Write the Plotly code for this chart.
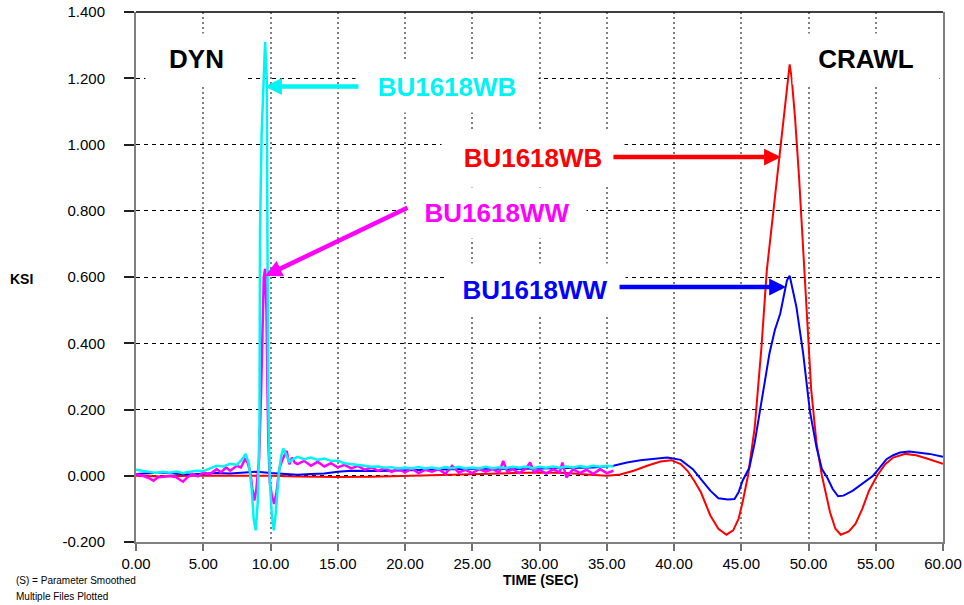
import plotly.graph_objects as go

# ---- Strain traces (KSI vs seconds) ----
# Crawl runs
crawl_wb_t = [0, 2, 4, 6, 8, 10, 12, 15, 17.5, 20, 22, 25, 28, 30, 32, 33.5, 35, 36, 37, 38, 39,
              39.8, 40.5, 41.0, 41.5, 42.0, 42.7, 43.3, 43.9, 44.4, 44.8, 45.1, 45.5, 46.0, 46.5,
              46.9, 47.4, 47.9, 48.3, 48.6, 48.75, 49.0, 49.3, 49.6, 49.9, 50.2, 50.6, 51.0, 51.6,
              52.0, 52.4, 53.0, 53.5, 54.0, 54.5, 55.1, 55.7, 56.3, 57.2, 58.0, 58.8, 59.5, 60.0]
crawl_wb_v = [0.0, -0.002, 0.0, 0.0, 0.002, 0.0, -0.002, -0.004, -0.003, 0.0, 0.003, 0.006, 0.008,
              0.010, 0.008, 0.004, 0.0, 0.004, 0.015, 0.030, 0.043, 0.047, 0.035, 0.015, -0.015,
              -0.050, -0.120, -0.160, -0.178, -0.165, -0.130, -0.080, 0.0, 0.145, 0.387, 0.620,
              0.800, 0.980, 1.133, 1.242, 1.200, 1.080, 0.900, 0.680, 0.450, 0.260, 0.097, 0.0,
              -0.110, -0.160, -0.178, -0.168, -0.145, -0.100, -0.045, 0.0, 0.035, 0.055, 0.066,
              0.062, 0.052, 0.043, 0.036]

crawl_ww_t = [0, 1, 2, 3, 4, 5, 6, 7, 8, 9, 10, 11, 12, 13, 14, 15, 16, 18, 20, 22, 24, 26, 28, 30,
              32, 34, 35.5, 36.5, 37.5, 38.5, 39.5, 40.5, 41.4, 42.0, 42.7, 43.3, 44.0, 44.5, 44.8,
              45.1, 45.6, 46.0, 46.4, 46.8, 47.1, 47.5, 47.9, 48.2, 48.4, 48.6, 48.8, 49.1, 49.6,
              50.1, 50.6, 51.0, 51.4, 51.8, 52.2, 52.6, 53.3, 54.3, 54.8, 55.1, 55.8, 56.3, 56.8,
              57.5, 58.3, 59.0, 60.0]
crawl_ww_v = [0.005, 0.008, 0.010, 0.006, 0.004, 0.006, 0.008, 0.007, 0.010, 0.012, 0.008, 0.005,
              0.003, 0.005, 0.007, 0.012, 0.015, 0.014, 0.016, 0.018, 0.020, 0.022, 0.020, 0.022,
              0.023, 0.025, 0.030, 0.040, 0.047, 0.050, 0.055, 0.048, 0.020, -0.010, -0.045,
              -0.068, -0.072, -0.070, -0.050, -0.015, 0.024, 0.100, 0.196, 0.290, 0.370, 0.440,
              0.490, 0.550, 0.590, 0.604, 0.570, 0.510, 0.370, 0.196, 0.085, 0.020, -0.006,
              -0.040, -0.062, -0.060, -0.045, -0.015, 0.0, 0.015, 0.050, 0.062, 0.070, 0.073,
              0.070, 0.066, 0.057]

# Dynamic runs
dyn_wb_t = [0, 0.5, 1.0, 1.5, 2.0, 2.5, 3.0, 3.5, 4.0, 4.5, 5.0, 5.5, 6.0, 6.5, 7.0, 7.5, 7.9, 8.15,
            8.4, 8.6, 8.75, 8.9, 9.05, 9.18, 9.22, 9.34, 9.55, 9.6, 9.72, 9.76, 9.82, 9.88, 9.97,
            10.1, 10.25, 10.4, 10.6, 10.8, 10.95, 11.2, 11.4, 11.7, 12.0, 12.5, 13.0, 13.5, 14.0,
            14.5, 15.0, 15.5, 16.0, 16.5, 17.0, 17.5, 18.0, 18.5, 19.0, 19.5, 20.0, 20.5, 21.0,
            21.5, 22.0, 22.5, 23.0, 23.5, 24.0, 24.5, 25.0, 25.5, 26.0, 26.5, 27.0, 27.5, 28.0,
            28.5, 29.0, 29.5, 30.0, 30.5, 31.0, 31.5, 32.0, 32.5, 33.0, 33.5, 34.0, 34.5, 35.0, 35.5]
dyn_wb_v = [0.018, 0.015, 0.012, 0.008, 0.012, 0.009, 0.013, 0.008, 0.012, 0.015, 0.014, 0.022,
            0.030, 0.028, 0.036, 0.033, 0.050, 0.066, 0.035, -0.040, -0.130, -0.165, -0.080,
            0.150, 0.740, 1.030, 1.250, 1.310, 1.200, 0.700, 0.300, 0.100, -0.030, -0.120, -0.165,
            -0.110, 0.0, 0.060, 0.082, 0.060, 0.042, 0.050, 0.057, 0.050, 0.055, 0.048, 0.052,
            0.045, 0.045, 0.038, 0.036, 0.032, 0.030, 0.027, 0.028, 0.024, 0.026, 0.022, 0.025,
            0.022, 0.026, 0.022, 0.025, 0.021, 0.026, 0.023, 0.027, 0.022, 0.025, 0.022, 0.027,
            0.023, 0.026, 0.023, 0.027, 0.024, 0.028, 0.023, 0.027, 0.024, 0.028, 0.024, 0.028,
            0.025, 0.029, 0.026, 0.030, 0.027, 0.030, 0.028]

dyn_ww_t = [0, 0.5, 1.0, 1.3, 1.6, 2.0, 2.5, 3.0, 3.5, 3.8, 4.2, 4.6, 5.0, 5.5, 6.0, 6.3, 6.7, 7.0,
            7.5, 7.8, 8.1, 8.3, 8.5, 8.65, 8.8, 8.95, 9.15, 9.3, 9.4, 9.5, 9.6, 9.7, 9.76, 9.84,
            9.95, 10.1, 10.27, 10.45, 10.65, 10.9, 11.2, 11.4, 11.6, 11.8, 12.0, 12.5, 13.0, 13.5,
            14.0, 14.5, 15.0, 15.5, 16.0, 16.5, 17.0, 17.5, 18.0, 18.5, 19.0, 19.5, 20.0, 20.5,
            21.0, 21.5, 22.0, 22.5, 23.0, 23.5, 24.0, 24.5, 25.0, 25.5, 26.0, 26.5, 27.0, 27.3,
            27.6, 28.0, 28.5, 29.0, 29.3, 29.6, 30.0, 30.5, 31.0, 31.5, 31.7, 32.0, 32.5, 33.0,
            33.5, 34.0, 34.5, 35.0, 35.5]
dyn_ww_v = [0.005, 0.0, -0.008, -0.015, -0.005, -0.003, 0.0, -0.005, -0.018, -0.005, 0.005, -0.002,
            0.010, 0.005, 0.020, 0.010, 0.025, 0.015, 0.030, 0.025, 0.050, 0.040, 0.010, -0.040,
            -0.075, -0.040, 0.050, 0.250, 0.450, 0.600, 0.625, 0.500, 0.300, 0.100, -0.020,
            -0.060, -0.085, -0.050, 0.020, 0.050, 0.075, 0.035, 0.055, 0.040, 0.035, 0.045, 0.030,
            0.042, 0.028, 0.038, 0.025, 0.033, 0.022, 0.030, 0.018, 0.025, 0.015, 0.022, 0.012,
            0.020, 0.010, 0.022, 0.008, 0.018, 0.012, 0.020, 0.006, 0.030, 0.010, 0.018, 0.008,
            0.020, 0.012, 0.020, 0.010, 0.045, 0.012, 0.020, 0.008, 0.022, 0.040, 0.010, 0.018,
            0.006, 0.020, 0.010, 0.040, -0.005, 0.020, 0.008, 0.018, 0.005, 0.020, 0.008, 0.015]

# ---- Axes ----
x_ticks = [0, 5, 10, 15, 20, 25, 30, 35, 40, 45, 50, 55, 60]
x_tick_text = ["0.00", "5.00", "10.00", "15.00", "20.00", "25.00", "30.00",
               "35.00", "40.00", "45.00", "50.00", "55.00", "60.00"]
y_ticks = [-0.2, 0.0, 0.2, 0.4, 0.6, 0.8, 1.0, 1.2, 1.4]
y_tick_text = ["-0.200", "0.000", "0.200", "0.400", "0.600", "0.800", "1.000", "1.200", "1.400"]

RED, BLUE, CYAN, MAGENTA = "#FF0000", "#0000FF", "#00F4F4", "#FF00FF"
FONT = "Liberation Sans, Arial, sans-serif"

fig = go.Figure()
fig.add_trace(go.Scatter(x=crawl_wb_t, y=crawl_wb_v, mode="lines",
                         line=dict(color=RED, width=2)))
fig.add_trace(go.Scatter(x=crawl_ww_t, y=crawl_ww_v, mode="lines",
                         line=dict(color=BLUE, width=2)))
fig.add_trace(go.Scatter(x=dyn_ww_t, y=dyn_ww_v, mode="lines",
                         line=dict(color=MAGENTA, width=2.5)))
fig.add_trace(go.Scatter(x=dyn_wb_t, y=dyn_wb_v, mode="lines",
                         line=dict(color=CYAN, width=2.5)))

# plot area in pixels: x 136..943, y 12..542
L, R, T, B = 136, 943, 12, 542


def px(xp):
    return (xp - L) / (R - L)


def py(yp):
    return (B - yp) / (B - T)


annotations = []

# white label boxes
def label(text, cx, cy, w, h, color, size):
    annotations.append(dict(
        text=f"<b>{text}</b>", x=px(cx), y=py(cy), xref="paper", yref="paper",
        xanchor="center", yanchor="middle", showarrow=False, width=w, height=h,
        bgcolor="white", font=dict(family=FONT, size=size, color=color)))


label("DYN", 196, 59, 99, 48, "black", 26)
label("CRAWL", 866, 59, 144, 48, "black", 26)
label("BU1618WB", 447, 87, 180, 49, CYAN, 26)
label("BU1618WB", 533, 158, 180, 50, RED, 26)
label("BU1618WW", 497, 213, 176, 48, MAGENTA, 26)
label("BU1618WW", 535, 290, 178, 50, BLUE, 26)


# pointer arrows (head at a data point, tail offset in pixels)
def pointer(x, y, ax, ay, color):
    annotations.append(dict(
        text="", x=x, y=y, xref="x", yref="y", ax=ax, ay=ay,
        showarrow=True, arrowhead=2, arrowsize=0.75, arrowwidth=4.5,
        arrowcolor=color))


pointer(9.59, 1.175, 95, 0, CYAN)
pointer(47.95, 0.962, -169, 0, RED)
pointer(9.59, 0.603, 144, -69, MAGENTA)
pointer(48.33, 0.570, -168, 0, BLUE)

# axis captions and footer notes
annotations.append(dict(text="<b>KSI</b>", x=px(22), y=py(279), xref="paper", yref="paper",
                        xanchor="center", yanchor="middle", showarrow=False,
                        font=dict(family=FONT, size=14, color="black")))
annotations.append(dict(text="<b>TIME (SEC)</b>", x=px(540), y=py(580), xref="paper",
                        yref="paper", xanchor="center", yanchor="middle", showarrow=False,
                        font=dict(family=FONT, size=14, color="black")))
annotations.append(dict(text="(S) = Parameter Smoothed", x=px(14), y=py(580), xref="paper",
                        yref="paper", xanchor="left", yanchor="middle", showarrow=False,
                        font=dict(family=FONT, size=10, color="black")))
annotations.append(dict(text="Multiple Files Plotted", x=px(14), y=py(596), xref="paper",
                        yref="paper", xanchor="left", yanchor="middle", showarrow=False,
                        font=dict(family=FONT, size=10, color="black")))

fig.update_layout(
    width=964, height=605,
    margin=dict(l=L, r=964 - R, t=T, b=605 - B, pad=0, autoexpand=False),
    paper_bgcolor="white", plot_bgcolor="white",
    showlegend=False,
    annotations=annotations,
    shapes=[dict(type="line", xref="paper", yref="paper", x0=0, x1=1, y0=1, y1=1,
                 line=dict(color="black", width=1.5), layer="above")],
    xaxis=dict(range=[0, 60], tickmode="array", tickvals=x_ticks, ticktext=x_tick_text,
               automargin=False,
               showgrid=True, gridcolor="#808080", griddash="2px,3px", gridwidth=2,
               zeroline=False, showline=True, linecolor="#808080", linewidth=2, mirror=False,
               ticks="outside", ticklen=7, tickwidth=2, tickcolor="#707070",
               tickfont=dict(family=FONT, size=15, color="black")),
    yaxis=dict(range=[-0.2, 1.4], tickmode="array", tickvals=y_ticks, ticktext=y_tick_text,
               automargin=False,
               showgrid=True, gridcolor="black", griddash="4px,4px", gridwidth=1,
               zeroline=False, showline=True, linecolor="#808080", linewidth=2, mirror=True,
               ticks="outside", ticklen=10, tickwidth=1.5, tickcolor="#202020",
               ticklabelstandoff=16,
               tickfont=dict(family=FONT, size=15, color="black")),
)

fig.write_html("out.html")
